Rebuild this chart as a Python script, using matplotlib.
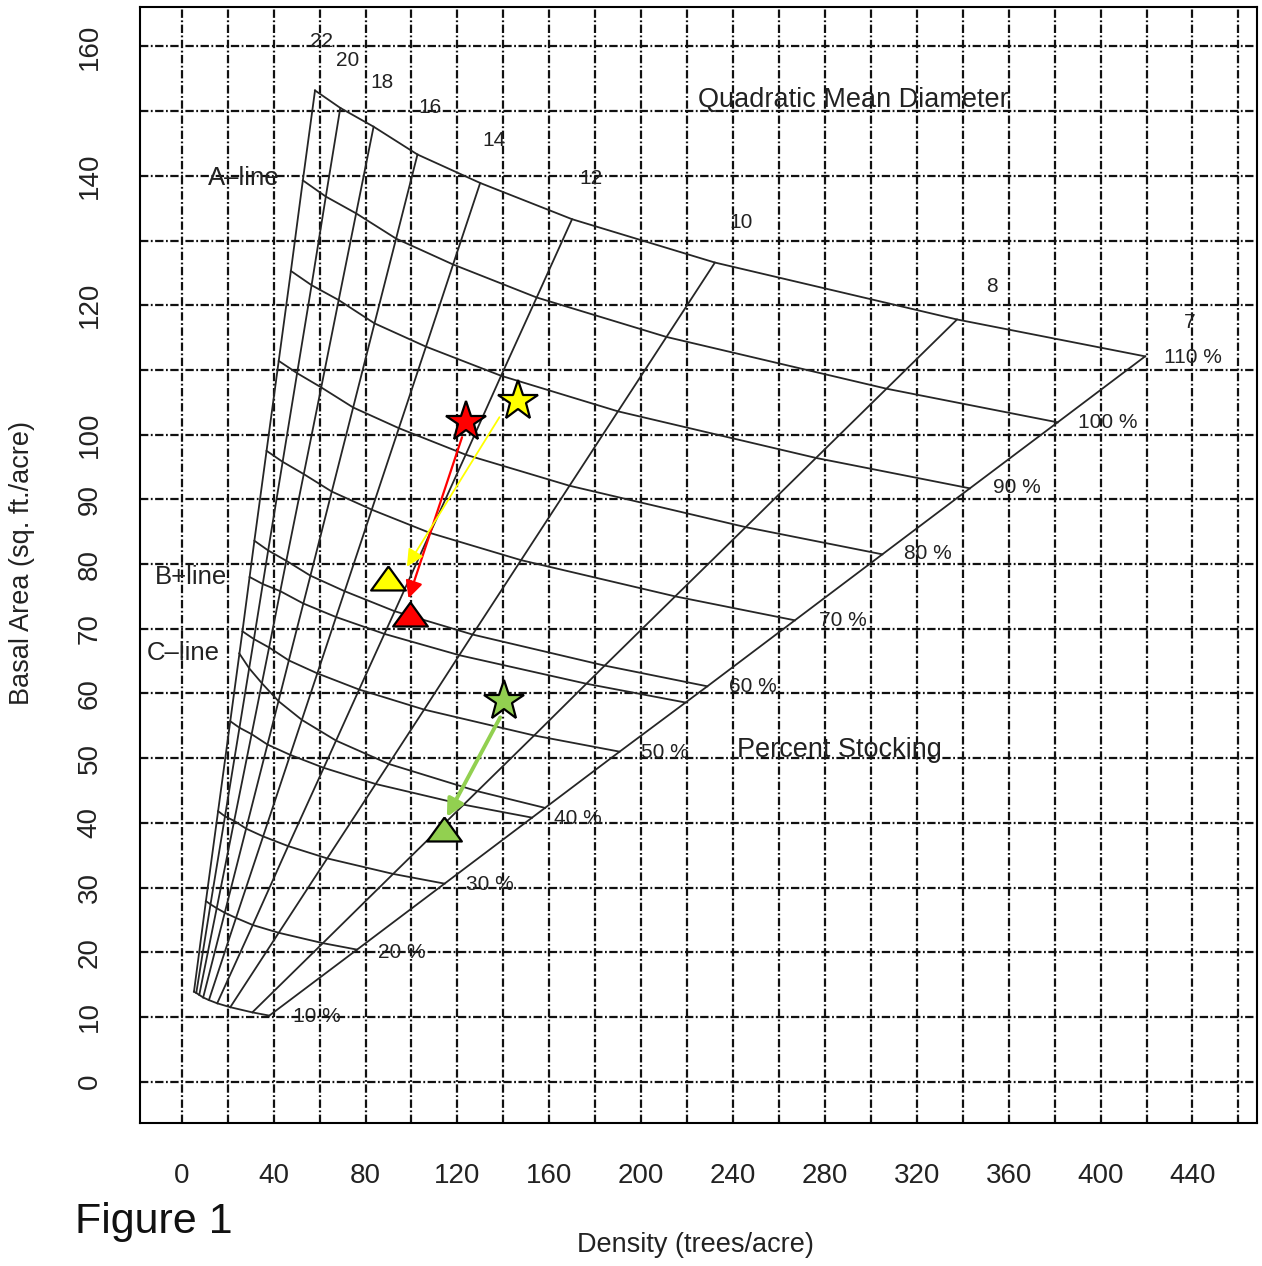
import numpy as np
import matplotlib.pyplot as plt

plt.rcParams['font.family'] = ['Liberation Sans', 'DejaVu Sans']
plt.rcParams['lines.scale_dashes'] = False

# quadratic mean diameter rays (inches) and percent stocking curves
qmd = [7, 8, 10, 12, 14, 16, 18, 20, 22]
stocking = [10, 20, 30, 40, 50, 60, 70, 80, 90, 100, 110]

# trees/acre at each (stocking, qmd) node
trees = [
    [38.1, 30.7, 21.1, 15.4, 11.8, 9.3, 7.6, 6.3, 5.3],
    [76.3, 61.4, 42.2, 30.9, 23.6, 18.7, 15.2, 12.5, 10.5],
    [114.4, 92.0, 63.3, 46.3, 35.4, 28.0, 22.8, 18.8, 15.8],
    [152.5, 122.7, 84.4, 61.8, 47.2, 37.3, 30.4, 25.1, 21.1],
    [190.6, 153.4, 105.5, 77.2, 59.0, 46.6, 38.0, 31.4, 26.4],
    [228.8, 184.1, 126.6, 92.7, 70.9, 56.0, 45.5, 37.6, 31.6],
    [266.9, 214.8, 147.7, 108.1, 82.7, 65.3, 53.1, 43.9, 36.9],
    [305.0, 245.5, 168.8, 123.6, 94.5, 74.6, 60.7, 50.2, 42.2],
    [343.1, 276.1, 189.9, 139.0, 106.3, 83.9, 68.3, 56.5, 47.5],
    [381.3, 306.8, 211.0, 154.5, 118.1, 93.3, 75.9, 62.7, 52.7],
    [419.4, 337.5, 232.1, 169.9, 129.9, 102.6, 83.5, 69.0, 58.0],
]
# basal area (sq ft/acre) at the same nodes
basal = [
    [10.2, 10.7, 11.5, 12.1, 12.6, 13.0, 13.4, 13.7, 13.9],
    [20.4, 21.4, 23.0, 24.2, 25.3, 26.1, 26.8, 27.4, 27.9],
    [30.6, 32.1, 34.5, 36.4, 37.9, 39.1, 40.3, 41.0, 41.8],
    [40.8, 42.8, 46.0, 48.5, 50.5, 52.1, 53.7, 54.7, 55.7],
    [51.0, 53.5, 57.5, 60.6, 63.1, 65.1, 67.1, 68.4, 69.6],
    [61.1, 64.3, 69.1, 72.7, 75.8, 78.2, 80.5, 82.1, 83.6],
    [71.3, 75.0, 80.6, 84.8, 88.4, 91.2, 93.9, 95.8, 97.5],
    [81.5, 85.7, 92.1, 96.9, 101.0, 104.2, 107.3, 109.5, 111.4],
    [91.7, 96.4, 103.6, 109.1, 113.6, 117.2, 120.8, 123.1, 125.3],
    [101.9, 107.1, 115.1, 121.2, 126.3, 130.3, 134.2, 136.8, 139.3],
    [112.1, 117.8, 126.6, 133.3, 138.9, 143.3, 147.6, 150.5, 153.2],
]

# B-line and C-line
b_trees = [219.2, 176.1, 120.9, 88.2, 67.2, 52.9, 42.9, 35.3, 29.5]
b_basal = [58.6, 61.5, 65.9, 69.2, 71.8, 73.9, 75.8, 76.9, 78.0]
c_trees = [158.2, 128.5, 90.1, 67.2, 52.3, 42.1, 34.8, 29.3, 25.0]
c_basal = [42.3, 44.9, 49.1, 52.7, 55.9, 58.8, 61.6, 63.9, 66.2]

# stands: before (stars) and after (triangles)
stand_colors = ['#ff0000', '#ffff00', '#92d050']
before_trees = [123.7, 146.5, 140.4]
before_basal = [101.9, 105.2, 58.9]
after_trees = [99.2, 89.7, 114.3]
after_basal = [72.3, 77.8, 39.1]
arrow_from = [(122.0, 99.6), (138.3, 102.7), (138.6, 56.3)]
arrow_to = [(98.7, 74.7), (98.0, 79.6), (115.4, 40.9)]
arrow_widths = [1.6, 1.3, 2.8]

x_ticks = [0, 40, 80, 120, 160, 200, 240, 280, 320, 360, 400, 440]
y_ticks = [0, 10, 20, 30, 40, 50, 60, 70, 80, 90, 100, 120, 140, 160]

# label text and where it sits
qmd_label_pos = [(439.0, 117.3), (352.8, 122.9), (243.5, 132.8), (178.2, 139.6),
                 (136.0, 145.5), (108.1, 150.5), (87.2, 154.5), (72.0, 157.9), (61.0, 160.7)]
pct_label_pos = [(59.0, 10.0), (96.0, 20.0), (134.2, 30.4), (172.6, 40.7), (210.4, 50.9),
                 (248.8, 61.0), (287.9, 71.3), (324.9, 81.7), (363.7, 91.9), (403.3, 101.8),
                 (440.2, 112.0)]

fig = plt.figure(figsize=(12.62, 12.66), dpi=100)
ax = fig.add_axes([140 / 1262, 143 / 1266, 1117 / 1262, 1116 / 1266])

line_kw = dict(color='#262626', lw=1.3, zorder=2)
trees_a = np.array(trees)
basal_a = np.array(basal)
for i in range(len(stocking)):
    ax.plot(trees_a[i], basal_a[i], **line_kw)
for j in range(len(qmd)):
    ax.plot(trees_a[:, j], basal_a[:, j], **line_kw)
ax.plot(b_trees, b_basal, **line_kw)
ax.plot(c_trees, c_basal, **line_kw)

txt = dict(color='#222222', zorder=3)
for d, (x, y) in zip(qmd, qmd_label_pos):
    ax.text(x, y, str(d), ha='center', va='center', fontsize=15, **txt)
for s, (x, y) in zip(stocking, pct_label_pos):
    ax.text(x, y, f'{s} %', ha='center', va='center', fontsize=15, **txt)
ax.text(224.8, 151.7, 'Quadratic Mean Diameter', ha='left', va='center', fontsize=19.5, **txt)
ax.text(241.8, 51.2, 'Percent Stocking', ha='left', va='center', fontsize=19.5, **txt)
ax.text(11.4, 139.6, 'A\u2013line', ha='left', va='center', fontsize=18.5, **txt)
ax.text(-11.6, 78.0, 'B+line', ha='left', va='center', fontsize=18.5, **txt)
ax.text(-15.1, 66.2, 'C\u2013line', ha='left', va='center', fontsize=18.5, **txt)

# arrows then markers
for c, p0, p1, w in zip(stand_colors, arrow_from, arrow_to, arrow_widths):
    ax.annotate('', xy=p1, xytext=p0,
                arrowprops=dict(arrowstyle='-|>', color=c, lw=w, mutation_scale=26,
                                shrinkA=0, shrinkB=0), zorder=4)
tri = [(0, 0.69), (-1, -0.69), (1, -0.69), (0, 0.69)]
for c, x0, y0, x1, y1 in zip(stand_colors, before_trees, before_basal, after_trees, after_basal):
    ax.plot(x0, y0, marker='*', ms=30, mfc=c, mec='black', mew=1.6, zorder=5)
    ax.plot(x1, y1, marker=tri, ms=25, mfc=c, mec='black', mew=1.6, zorder=5)

ax.set_xlim(-18.2, 468.1)
ax.set_ylim(-6.4, 166.1)
ax.set_xticks(x_ticks)
ax.set_xticks(np.arange(0, 461, 20), minor=True)
ax.set_yticks(y_ticks)
ax.set_yticks(np.arange(0, 161, 10), minor=True)
ax.grid(which='both', color='#111111', lw=1.6, linestyle=(0, (6, 1.8, 1.3, 1.8)), zorder=0)
ax.set_axisbelow(True)
ax.tick_params(which='both', length=0)
ax.tick_params(axis='x', pad=29, labelsize=20, labelcolor='#222222')
ax.tick_params(axis='y', pad=27, labelsize=20, labelcolor='#222222', labelrotation=90)
for lab in ax.get_yticklabels():
    lab.set_va('center')
for sp in ax.spines.values():
    sp.set_linewidth(1.5)

fig.text(695 / 1262, 1 - 1245 / 1266, 'Density (trees/acre)', ha='center', va='center',
         fontsize=19.5, color='#222222')
fig.text(22 / 1262, 1 - 563 / 1266, 'Basal Area (sq. ft./acre)', ha='center', va='center',
         rotation=90, fontsize=19.5, color='#222222')
fig.text(75 / 1262, 1 - 1222 / 1266, 'Figure 1', ha='left', va='center', fontsize=31, color='#111111')

fig.savefig('out.png', dpi=100)
